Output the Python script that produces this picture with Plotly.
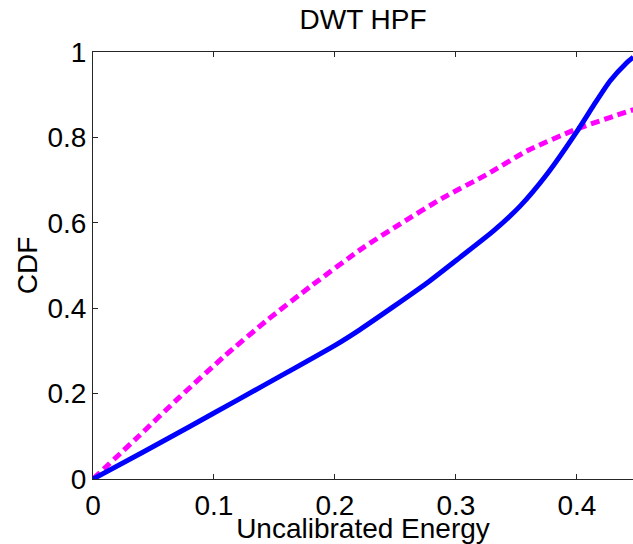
import plotly.graph_objects as go

# Data
blue_x = [0, 0.04, 0.08, 0.12, 0.16, 0.2, 0.2207, 0.248, 0.276, 0.3033,
          0.331, 0.353, 0.375, 0.400, 0.414, 0.4273, 0.4411, 0.4465]
blue_y = [0, 0.061, 0.123, 0.186, 0.249, 0.313, 0.350, 0.403, 0.459, 0.519,
          0.581, 0.639, 0.713, 0.814, 0.876, 0.932, 0.975, 0.988]

mag_x = [0, 0.0375, 0.072, 0.108, 0.1435, 0.1807, 0.2234, 0.2537, 0.2895, 0.3254,
         0.3585, 0.4002, 0.4467]
mag_y = [0, 0.0995, 0.193, 0.286, 0.371, 0.453, 0.542, 0.597, 0.659, 0.713,
         0.768, 0.820, 0.865]

x_ticks = [0, 0.1, 0.2, 0.3, 0.4]
x_tick_labels = ["0", "0.1", "0.2", "0.3", "0.4"]
y_ticks = [0, 0.2, 0.4, 0.6, 0.8, 1]
y_tick_labels = ["0", "0.2", "0.4", "0.6", "0.8", "1"]

FONT = "Liberation Sans, Arial, Helvetica, sans-serif"

fig = go.Figure()
fig.add_trace(go.Scatter(x=mag_x, y=mag_y, mode="lines",
                         line=dict(color="#ff00ff", width=5, dash="9px,5px",
                                   shape="spline", smoothing=0.6),
                         showlegend=False, hoverinfo="skip"))
fig.add_trace(go.Scatter(x=blue_x, y=blue_y, mode="lines",
                         line=dict(color="#0000ff", width=5,
                                   shape="spline", smoothing=0.6),
                         showlegend=False, hoverinfo="skip"))

fig.update_layout(
    width=633, height=544,
    margin=dict(l=93, r=0, t=52, b=63, pad=0),
    paper_bgcolor="white", plot_bgcolor="white",
    font=dict(family=FONT, size=28, color="black"),
    title=dict(text="DWT HPF", x=(93 + 633) / 2 / 633, xanchor="center",
               y=1 - 19 / 544, yanchor="middle", yref="container",
               font=dict(size=28, family=FONT, color="black")),
    xaxis=dict(range=[0, 0.4463], tickvals=x_ticks, ticktext=x_tick_labels,
               ticks="inside", ticklen=5, tickcolor="#262626", tickwidth=1,
               showline=True, linecolor="#262626", linewidth=1, mirror="ticks",
               showgrid=False, zeroline=False, ticklabelstandoff=1,
               title=dict(text="Uncalibrated Energy", standoff=4,
                          font=dict(size=28, family=FONT))),
    yaxis=dict(range=[0, 1], tickvals=y_ticks, ticktext=y_tick_labels,
               ticks="inside", ticklen=5, tickcolor="#262626", tickwidth=1,
               showline=True, linecolor="#262626", linewidth=1, mirror=False,
               showgrid=False, zeroline=False, ticklabelstandoff=0,
               title=dict(text="CDF", standoff=1,
                          font=dict(size=28, family=FONT))),
    yaxis2=dict(range=[0, 1], tickvals=y_ticks, overlaying="y", side="right",
                ticks="inside", ticklen=3, tickcolor="#262626",
                showticklabels=False, showline=False, showgrid=False,
                zeroline=False),
)

fig.write_html("out.html")
